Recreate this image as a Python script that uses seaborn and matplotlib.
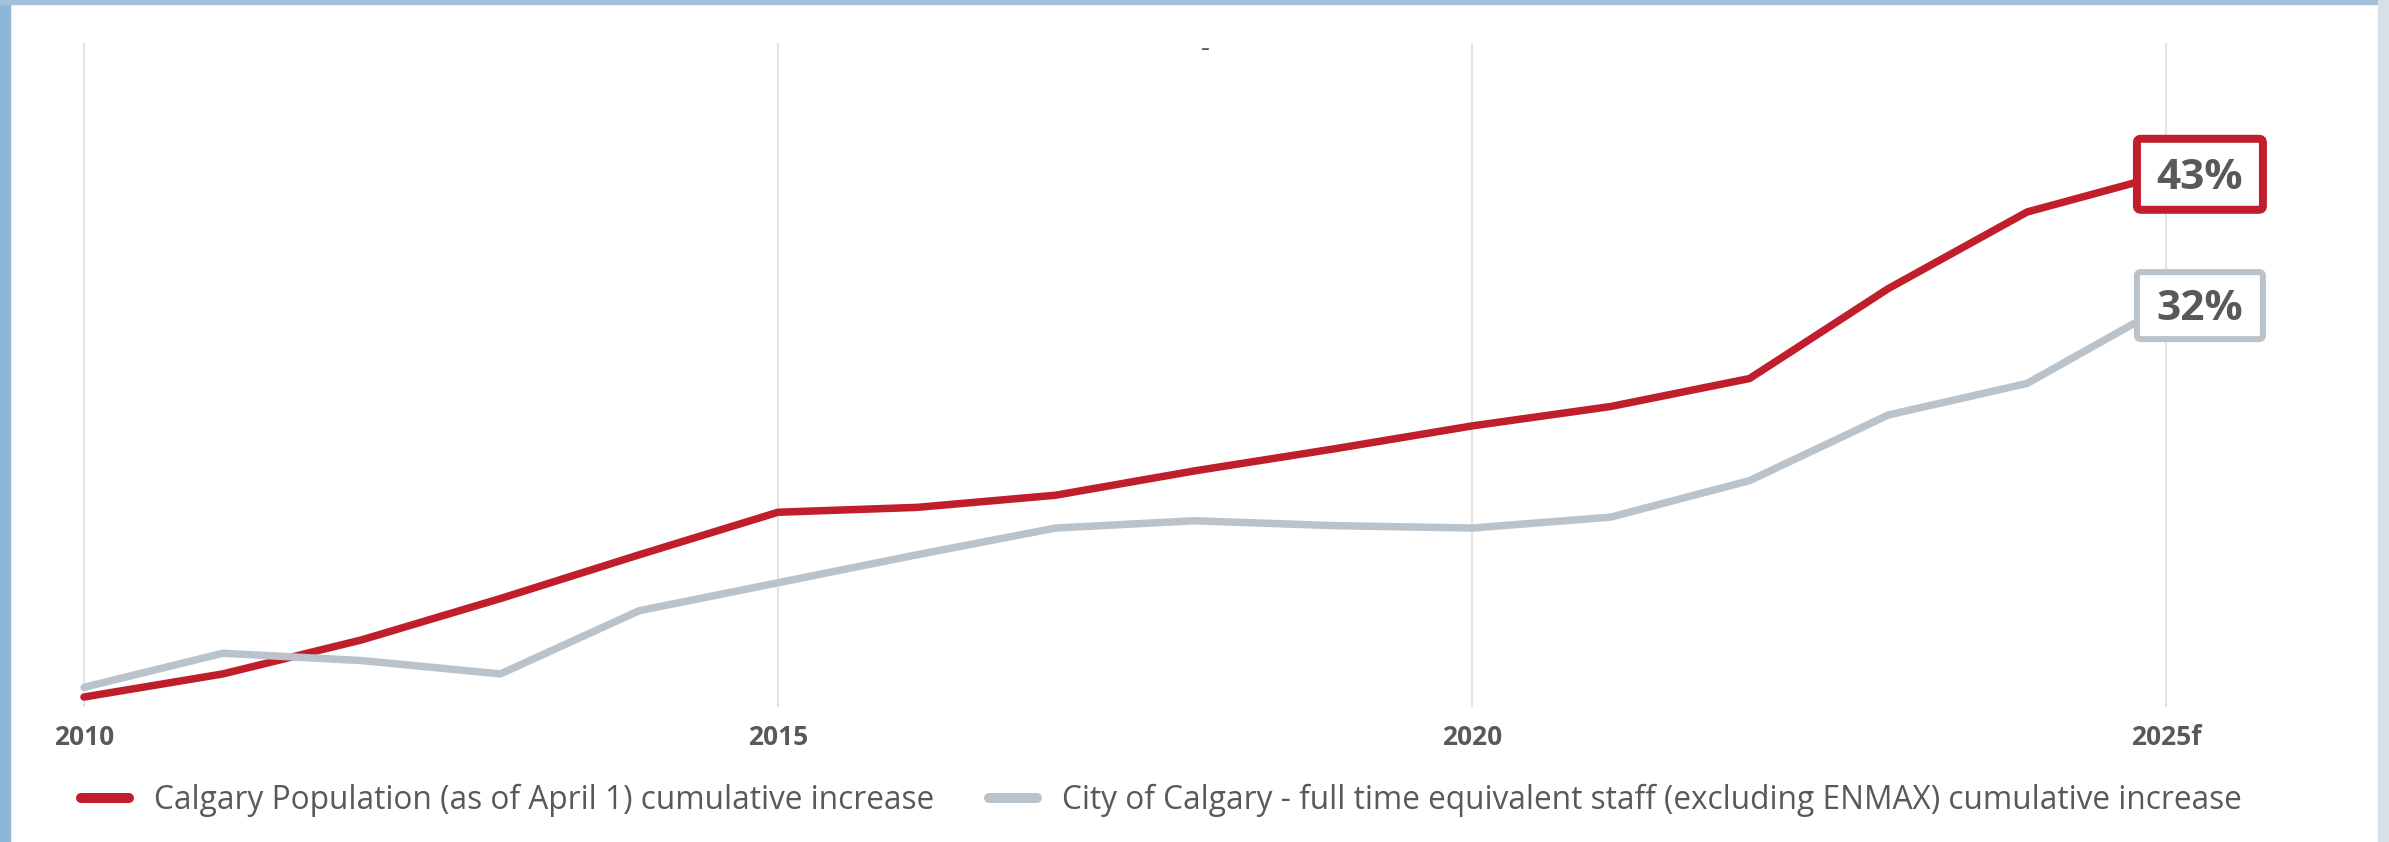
import matplotlib
matplotlib.use('Agg')

import pandas as pd
import matplotlib.pyplot as plt
import matplotlib.transforms as mtransforms
from matplotlib.patches import FancyBboxPatch, Rectangle
from matplotlib.lines import Line2D
import seaborn as sns

# data (cumulative % increase since 2010)
years = list(range(2010, 2026))
population = [0.0, 1.9, 4.7, 8.1, 11.7, 15.2, 15.6, 16.6, 18.6, 20.4, 22.3, 23.9, 26.2, 33.6, 39.9, 43.0]
staff = [0.8, 3.6, 3.0, 1.9, 7.1, 9.4, 11.7, 13.9, 14.5, 14.1, 13.9, 14.8, 17.8, 23.2, 25.8, 32.2]
tick_years = [2010, 2015, 2020, 2025]
tick_labels = ['2010', '2015', '2020', '2025f']
series_names = ['Calgary Population (as of April 1) cumulative increase',
                'City of Calgary - full time equivalent staff (excluding ENMAX) cumulative increase']
end_labels = ['43%', '32%']

RED = '#BF1E2A'
GREY = '#BBC3CA'
TEXT = '#58595B'

sns.set_theme(style='white')
plt.rcParams['font.family'] = ['Open Sans', 'DejaVu Sans']

df = pd.DataFrame({
    'year': years * 2,
    'value': population + staff,
    'series': [series_names[0]] * len(years) + [series_names[1]] * len(years),
})

W, H = 2389, 842
fig = plt.figure(figsize=(W / 100, H / 100), dpi=100)
fig.patch.set_facecolor('white')

# page background strips around the white panel
fig.add_artist(Rectangle((0, 0), 10 / W, 1, transform=fig.transFigure, color='#8FB6D5', zorder=0))
fig.add_artist(Rectangle((0, 1 - 4 / H), 1, 4 / H, transform=fig.transFigure, color='#A4C0D8', zorder=0))
fig.add_artist(Rectangle((2378 / W, 0), 11 / W, 1, transform=fig.transFigure, color='#D6E0E8', zorder=0))

ax = fig.add_axes([40 / W, 1 - 707 / H, 2260 / W, (707 - 43) / H])
ax.set_facecolor('none')

palette = {series_names[0]: RED, series_names[1]: GREY}
sns.lineplot(data=df, x='year', y='value', hue='series', hue_order=series_names,
             palette=palette, linewidth=5.4, legend=False, ax=ax)

ax.set_xlim(2009.683, 2025.966)
ax.set_ylim(-0.82, 53.8)
ax.set_xticks(tick_years)
ax.set_xticklabels(tick_labels, fontweight='bold')
ax.set_yticks([])
ax.set_xlabel('')
ax.set_ylabel('')
ax.grid(axis='x', color='#E5E5E5', linewidth=1.5)
ax.tick_params(axis='x', length=0, pad=12.5, labelsize=19, labelcolor=TEXT)
sns.despine(ax=ax, left=True, bottom=True)

# boxed end labels
boxes = [(population[-1], RED, 8, 71), (staff[-1], GREY, 6, 67)]
for (yv, col, lw_px, h_px), lab in zip(boxes, end_labels):
    trans = mtransforms.ScaledTranslation(years[-1], yv, ax.transData)
    w_px = 126
    dx = 34
    box = FancyBboxPatch((dx - w_px / 2, -h_px / 2), w_px, h_px,
                         boxstyle='round,pad=0,rounding_size=4', transform=trans,
                         facecolor='white', edgecolor=col, linewidth=lw_px * 0.72,
                         zorder=5, clip_on=False)
    ax.add_artist(box)
    ax.annotate(lab, xy=(years[-1], yv), xytext=(dx * 0.72, -10.6), textcoords='offset points',
                ha='center', va='baseline', fontsize=30.5, fontweight='bold', color=TEXT,
                zorder=6, annotation_clip=False)

fig.text(1205 / W, 1 - 49 / H, '-', ha='center', va='center', fontsize=20, color=TEXT)

handles = [Line2D([0], [0], color=RED, lw=7.2, solid_capstyle='round'),
           Line2D([0], [0], color=GREY, lw=7.2, solid_capstyle='round')]
fig.legend(handles, series_names, loc='center left', bbox_to_anchor=(81 / W, 1 - 800 / H),
           ncol=2, frameon=False, borderpad=0, borderaxespad=0, handlelength=1.5,
           handletextpad=0.8, columnspacing=1.75, fontsize=22.8, labelcolor=TEXT)

fig.savefig('out.png', dpi=100)
